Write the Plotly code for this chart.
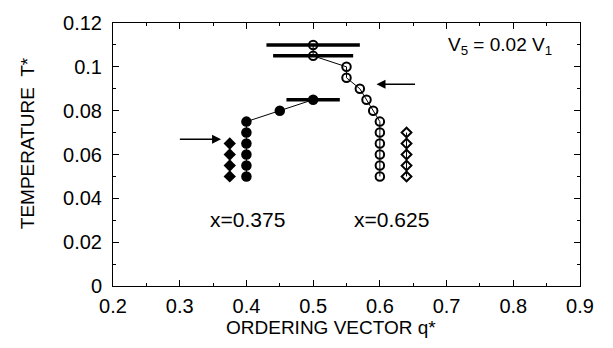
import plotly.graph_objects as go

# Data
fd_x = [0.375, 0.375, 0.375, 0.375]
fd_y = [0.05, 0.055, 0.06, 0.065]

fc_x = [0.4, 0.4, 0.4, 0.4, 0.4, 0.4, 0.45, 0.5]
fc_y = [0.05, 0.055, 0.06, 0.065, 0.07, 0.075, 0.08, 0.085]
fc_err = [0, 0, 0, 0, 0, 0, 0, 0.04]

oc_x = [0.5, 0.5, 0.55, 0.55, 0.57, 0.58, 0.59, 0.6, 0.6, 0.6, 0.6, 0.6, 0.6]
oc_y = [0.11, 0.105, 0.1, 0.095, 0.09, 0.085, 0.08, 0.075, 0.07, 0.065, 0.06, 0.055, 0.05]
oc_err = [0.07, 0.06, 0, 0, 0, 0, 0, 0, 0, 0, 0, 0, 0]

od_x = [0.64, 0.64, 0.64, 0.64, 0.64]
od_y = [0.05, 0.055, 0.06, 0.065, 0.07]

labels = ["x=0.375", "x=0.625"]
label_x = [0.402, 0.618]
label_y = [0.0305, 0.0305]

arrows = [  # (x_head, y, x_tail)
    (0.362, 0.067, 0.298),
    (0.595, 0.092, 0.655),
]

font = "Liberation Sans, Arial, sans-serif"

fig = go.Figure()

fig.add_trace(go.Scatter(
    x=fc_x, y=fc_y, mode="lines+markers",
    line=dict(color="black", width=1),
    marker=dict(symbol="circle", size=10.5, color="black"),
    error_x=dict(type="data", array=fc_err, color="black", thickness=3.5, width=0),
    showlegend=False))

fig.add_trace(go.Scatter(
    x=oc_x, y=oc_y, mode="lines+markers",
    line=dict(color="black", width=1),
    marker=dict(symbol="circle-open", size=8.5, color="black", line=dict(width=2)),
    error_x=dict(type="data", array=oc_err, color="black", thickness=3.5, width=0),
    showlegend=False))

fig.add_trace(go.Scatter(
    x=fd_x, y=fd_y, mode="markers",
    marker=dict(symbol="diamond", size=9.5, color="black"),
    showlegend=False))

fig.add_trace(go.Scatter(
    x=od_x, y=od_y, mode="lines+markers",
    line=dict(color="black", width=1),
    marker=dict(symbol="diamond-open", size=7.5, color="black", line=dict(width=2)),
    showlegend=False))

for t, x, y in zip(labels, label_x, label_y):
    fig.add_annotation(x=x, y=y, text=t, showarrow=False,
                       font=dict(family=font, size=21, color="black"))

fig.add_annotation(x=0.78, y=0.1095, text="V<sub>5</sub> = 0.02 V<sub>1</sub>",
                   showarrow=False, font=dict(family=font, size=19, color="black"))

for xh, y, xt in arrows:
    fig.add_annotation(x=xh, y=y, ax=xt, ay=y, xref="x", yref="y",
                       axref="x", ayref="y", text="", showarrow=True,
                       arrowhead=2, arrowsize=1.2, arrowwidth=1.5, arrowcolor="black")

# axis titles as annotations (placed as in the reference)
fig.add_annotation(xref="paper", yref="paper", x=(331 - 113) / 467, y=-(328 - 286) / 267,
                   text="ORDERING VECTOR q*", showarrow=False, xanchor="center", yanchor="middle",
                   font=dict(family=font, size=19, color="black"))
fig.add_annotation(xref="paper", yref="paper", x=(27 - 113) / 467, y=(286 - 141) / 267,
                   text="TEMPERATURE  T*", showarrow=False, textangle=-90,
                   xanchor="center", yanchor="middle",
                   font=dict(family=font, size=19, color="black"))

axis_common = dict(
    showline=True, linecolor="black", linewidth=1, mirror="ticks",
    ticks="inside", ticklen=6, tickwidth=1, tickcolor="black",
    showgrid=False, zeroline=False,
    tickfont=dict(family=font, size=20, color="black"),
)

fig.update_xaxes(range=[0.2, 0.9], dtick=0.1, tick0=0.2,
                 minor=dict(ticks="inside", ticklen=3, dtick=0.05, tickcolor="black", showgrid=False),
                 ticklabelstandoff=2,
                 **axis_common)
fig.update_yaxes(range=[0, 0.12], dtick=0.02, tick0=0,
                 minor=dict(ticks="inside", ticklen=3, dtick=0.01, tickcolor="black", showgrid=False),
                 tickformat="~g", ticklabelstandoff=6,
                 **axis_common)

fig.update_layout(
    width=613, height=348,
    margin=dict(l=113, r=33, t=19, b=62),
    plot_bgcolor="white", paper_bgcolor="white",
)

fig.write_html("out.html")
